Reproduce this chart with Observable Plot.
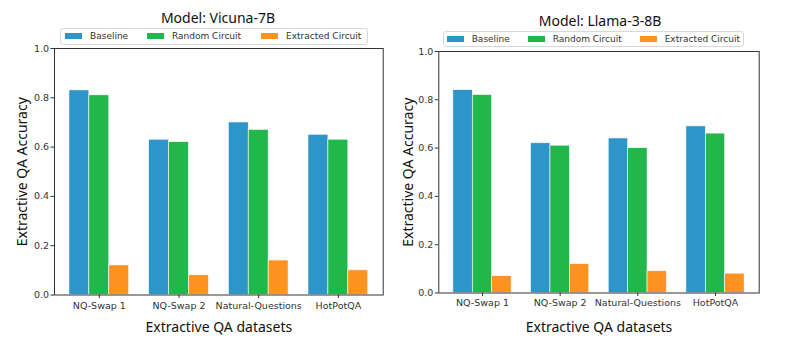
<!DOCTYPE html>
<html>
<head>
<meta charset="utf-8">
<script src="https://cdn.jsdelivr.net/npm/d3@7"></script>
<script src="https://cdn.jsdelivr.net/npm/@observablehq/plot@0.6"></script>
<style>
  html, body { margin: 0; padding: 0; background: white; }
  #root { position: relative; width: 790px; height: 343px; overflow: hidden; background: white; }
  .panel { position: absolute; }
  .title { position: absolute; font-family: "Noto Sans", sans-serif; font-size: 14px; color: #111; white-space: nowrap; transform: translate(-50%, -50%); z-index: 3; }
  .legend { position: absolute; border: 1px solid #d8d8d8; border-radius: 3px; background: rgba(255,255,255,0.85); z-index: 3; font-family: "DejaVu Sans", sans-serif; font-size: 9px; color: #333; box-sizing: border-box; }
  .legend .item { position: absolute; top: 0; height: 100%; display: flex; align-items: center; white-space: nowrap; }
  .legend .sw { display: inline-block; width: 17px; height: 6px; margin-right: 8px; }
</style>
</head>
<body>
<div id="root"></div>
<script>
// ---- data ----
const datasets = ["NQ-Swap 1", "NQ-Swap 2", "Natural-Questions", "HotPotQA"];
const seriesNames = ["Baseline", "Random Circuit", "Extracted Circuit"];
const seriesColors = ["#2E95C9", "#21B74B", "#FF9320"];

const vicunaBaseline = [0.83, 0.63, 0.70, 0.65];
const vicunaRandom = [0.81, 0.62, 0.67, 0.63];
const vicunaExtracted = [0.12, 0.08, 0.14, 0.10];

const llamaBaseline = [0.84, 0.62, 0.64, 0.69];
const llamaRandom = [0.82, 0.61, 0.60, 0.66];
const llamaExtracted = [0.07, 0.12, 0.09, 0.08];

const yTicks = [0, 0.2, 0.4, 0.6, 0.8, 1.0];

const titles = ["Model: Vicuna-7B", "Model: Llama-3-8B"];
const xLabel = "Extractive QA datasets";
const yLabel = "Extractive QA Accuracy";

// ---- build ----
function rowsFor(seriesArrays) {
  const rows = [];
  seriesArrays.forEach((vals, k) => {
    vals.forEach((v, i) => rows.push({i, k, series: seriesNames[k], value: v}));
  });
  return rows;
}

const barW = 0.25;
function panel(rows, opts) {
  return Plot.plot({
    width: opts.width,
    height: opts.height,
    marginLeft: opts.ml,
    marginRight: opts.mr,
    marginTop: opts.mt,
    marginBottom: opts.mb,
    style: {background: "white", overflow: "visible"},
    x: {domain: [-0.5625, 3.5625]},
    y: {domain: [0, 1]},
    color: {domain: seriesNames, range: seriesColors},
    marks: [
      Plot.rectY(rows, {
        x1: d => d.i + (d.k - 1) * barW - barW / 2,
        x2: d => d.i + (d.k - 1) * barW + barW / 2,
        y: "value",
        fill: "series",
        stroke: "white",
        strokeWidth: 0.6
      }),
      Plot.frame({stroke: "#333", strokeWidth: 1}),
      Plot.axisY({
        ticks: yTicks, tickFormat: d3.format(".1f"), tickSize: 3.5, tickPadding: 2,
        fontSize: 9.5, fontFamily: "DejaVu Sans", color: "#333", label: null
      }),
      Plot.axisX({
        ticks: [0, 1, 2, 3], tickFormat: i => datasets[i], tickSize: 3.5, tickPadding: opts.xpad,
        fontSize: 9.5, fontFamily: "DejaVu Sans", color: "#333", label: null
      }),
      Plot.text([xLabel], {frameAnchor: "bottom", dy: opts.xlabDy, lineAnchor: "middle", fontSize: 14, fontFamily: "Noto Sans", fill: "#111"}),
      Plot.text([yLabel], {frameAnchor: "left", rotate: -90, dx: opts.ylabDx, textAnchor: "middle", lineAnchor: "middle", fontSize: 14, fontFamily: "Noto Sans", fill: "#111"})
    ]
  });
}

const root = document.getElementById("root");

function addPanel(rows, left, top, o, title, tx, ty, legend) {
  const svg = panel(rows, o);
  const wrap = document.createElement("div");
  wrap.className = "panel";
  wrap.style.left = left + "px";
  wrap.style.top = top + "px";
  wrap.appendChild(svg);
  root.appendChild(wrap);

  const t = document.createElement("div");
  t.className = "title";
  t.textContent = title;
  t.style.left = tx + "px";
  t.style.top = ty + "px";
  root.appendChild(t);

  const lg = document.createElement("div");
  lg.className = "legend";
  lg.style.left = legend.x + "px";
  lg.style.top = legend.y + "px";
  lg.style.width = legend.w + "px";
  lg.style.height = legend.h + "px";
  seriesNames.forEach((name, k) => {
    const it = document.createElement("div");
    it.className = "item";
    it.style.left = legend.offsets[k] + "px";
    const sw = document.createElement("span");
    sw.className = "sw";
    sw.style.background = seriesColors[k];
    const lab = document.createElement("span");
    lab.textContent = name;
    it.appendChild(sw);
    it.appendChild(lab);
    lg.appendChild(it);
  });
  root.appendChild(lg);
}

addPanel(
  rowsFor([vicunaBaseline, vicunaRandom, vicunaExtracted]),
  0, 36,
  {width: 395, height: 307, ml: 54, mr: 12.3, mt: 12, mb: 48.5, xpad: 3.5, xlabDy: 33, ylabDx: -32},
  titles[0], 218, 17,
  {x: 60, y: 28, w: 308, h: 16.5, offsets: [4, 86, 200]}
);

addPanel(
  rowsFor([llamaBaseline, llamaRandom, llamaExtracted]),
  395, 36,
  {width: 395, height: 307, ml: 43.3, mr: 31.3, mt: 15, mb: 50.5, xpad: 2.5, xlabDy: 35, ylabDx: -30},
  titles[1], 600, 19.5,
  {x: 442.7, y: 30.7, w: 301, h: 16.5, offsets: [3, 84, 196]}
);
</script>
</body>
</html>
